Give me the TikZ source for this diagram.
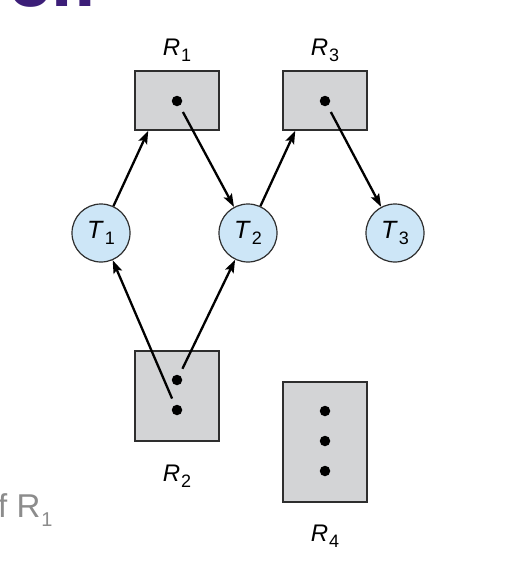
\documentclass[tikz,border=0pt]{standalone}
\usepackage{fontspec}
\setmainfont{Liberation Sans}
\newfontfamily\titlefont{DejaVu Sans}
\usetikzlibrary{arrows.meta}
\definecolor{boxfill}{HTML}{D3D4D6}
\definecolor{edgecol}{HTML}{2E2E2E}
\definecolor{procfill}{HTML}{CDE6F7}
\definecolor{titlepurple}{HTML}{3C1E78}
\definecolor{notegray}{HTML}{8C8C8C}
\newcommand{\nmlabel}[2]{\textit{#1}\kern1pt\raisebox{-6pt}{\fontsize{18}{18}\selectfont #2}}
\begin{document}
\begin{tikzpicture}[x=1pt,y=-1pt,
  res/.style={draw=edgecol,line width=1.4pt,fill=boxfill,minimum width=84pt,inner sep=0pt},
  proc/.style={circle,draw=edgecol,line width=1.2pt,fill=procfill,minimum size=58pt,inner sep=0pt,font=\fontsize{25}{25}\selectfont},
  tok/.style={circle,fill=black,minimum size=10.5pt,inner sep=0pt},
  lbl/.style={anchor=base,inner sep=0pt,font=\fontsize{24}{24}\selectfont},
  edge/.style={line width=2.3pt,-{Stealth[length=13pt,width=9pt,inset=2.5pt]}}]
\useasboundingbox (0,0) rectangle (520,562);
% fragments of the slide
\begin{scope}
  \clip (0,0) rectangle (200,10);
  \node[anchor=base west,inner sep=0pt,text=titlepurple,font=\fontsize{62}{62}\selectfont\titlefont\bfseries] (title) at (9,6.5) {on};
\end{scope}
\node[anchor=base west,inner sep=0pt,text=notegray,font=\fontsize{33}{33}\selectfont] (note) at (-2,517) {f R\kern1pt\raisebox{-9pt}{\fontsize{20}{20}\selectfont 1}};
% resources
\node[res,minimum height=59pt] (R1) at (177,100.5) {};
\node[res,minimum height=59pt] (R3) at (325,100.5) {};
\node[res,minimum height=90pt] (R2) at (177,396) {};
\node[res,minimum height=120pt] (R4) at (325,442) {};
\node[tok] (d1) at (177,101) {};
\node[tok] (d3) at (325,101) {};
\node[tok] (d2a) at (177,380) {};
\node[tok] (d2b) at (177,410) {};
\node[tok] (d4a) at (325,411) {};
\node[tok] (d4b) at (325,441) {};
\node[tok] (d4c) at (325,471) {};
\node[lbl] (l1) at (177,55) {\nmlabel{R}{1}};
\node[lbl] (l3) at (325,55) {\nmlabel{R}{3}};
\node[lbl] (l2) at (177,481) {\nmlabel{R}{2}};
\node[lbl] (l4) at (325,541) {\nmlabel{R}{4}};
% processes
\node[proc] (T1) at (101,233) {\nmlabel{T}{1}};
\node[proc] (T2) at (248,233) {\nmlabel{T}{2}};
\node[proc] (T3) at (395,233) {\nmlabel{T}{3}};
% edges
\coordinate (R1in) at ([xshift=14pt]R1.south west);
\coordinate (R3in) at ([xshift=13pt]R3.south west);
\draw[edge] (T1) -- (R1in);
\draw[edge,shorten <=7pt] (d1) -- (T2);
\draw[edge] (T2) -- (R3in);
\draw[edge,shorten <=7pt] (d3) -- (T3);
\draw[edge,shorten <=7pt] (d2b) -- (T1);
\draw[edge,shorten <=7pt] (d2a) -- (T2);
\end{tikzpicture}
\end{document}
